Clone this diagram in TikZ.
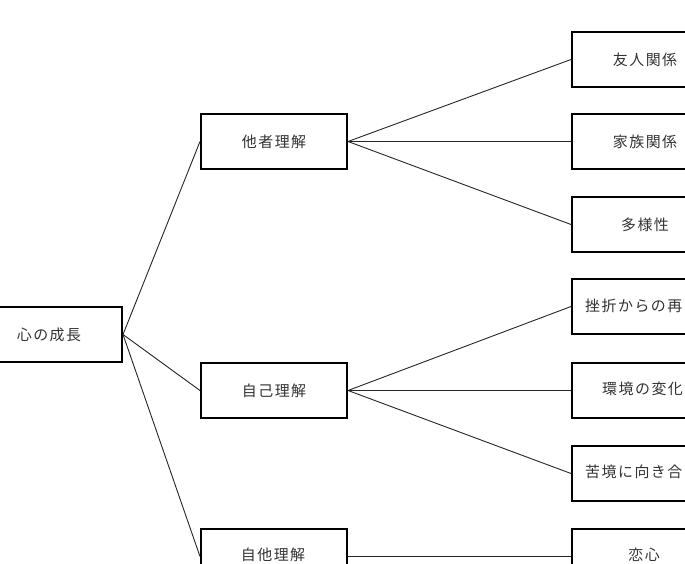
\documentclass[tikz,border=0pt]{standalone}
\usepackage{fontspec}
\newfontfamily\cjk[LetterSpace=10]{Noto Sans CJK JP}
\begin{document}
\begin{tikzpicture}[x=1bp,y=-1bp,
  box/.style={draw=black,line width=2bp,minimum width=146bp,minimum height=55bp,inner sep=0pt,anchor=north west,font=\cjk\fontsize{15}{18}\selectfont,text=black!80},
  lbl/.style={font=\cjk\fontsize{15}{18}\selectfont,text=black!80,inner sep=0pt},
  conn/.style={draw=black!85,line width=0.9bp}]
\useasboundingbox (0,0) rectangle (685,564);
\clip (0,0) rectangle (685,564);
\fill[white] (0,0) rectangle (685,564);
% root
\node[box] (root) at (-25,306) {心の成長};
% level 1
\node[box] (b1) at (200,113) {他者理解};
\node[box] (b2) at (200,362) {自己理解};
\node[box] (b3) at (200,528) {};
\node[lbl] (t3) at (273,555) {自他理解};
% level 2
\node[box] (c1) at (571,31) {友人関係};
\node[box] (c2) at (571,113) {家族関係};
\node[box] (c3) at (571,196) {多様性};
\node[box] (c4) at (571,278) {};
\node[lbl,anchor=west] (t4) at (585,305.5) {挫折からの再};
\node[box] (c5) at (571,362) {};
\node[lbl,anchor=west] (t5) at (602,389) {環境の変化};
\node[box] (c6) at (571,445) {};
\node[lbl,anchor=west] (t6) at (585,472) {苦境に向き合};
\node[box] (c7) at (571,528) {};
\node[lbl] (t7) at (644,555) {恋心};
% connectors
\draw[conn] (root.east) -- (b1.west);
\draw[conn] (root.east) -- (b2.west);
\draw[conn] (root.east) -- (b3.west);
\draw[conn] (b1.east) -- (c1.west);
\draw[conn] (b1.east) -- (c2.west);
\draw[conn] (b1.east) -- (c3.west);
\draw[conn] (b2.east) -- (c4.west);
\draw[conn] (b2.east) -- (c5.west);
\draw[conn] (b2.east) -- (c6.west);
\draw[conn] (b3.east) -- (c7.west);
\end{tikzpicture}
\end{document}
